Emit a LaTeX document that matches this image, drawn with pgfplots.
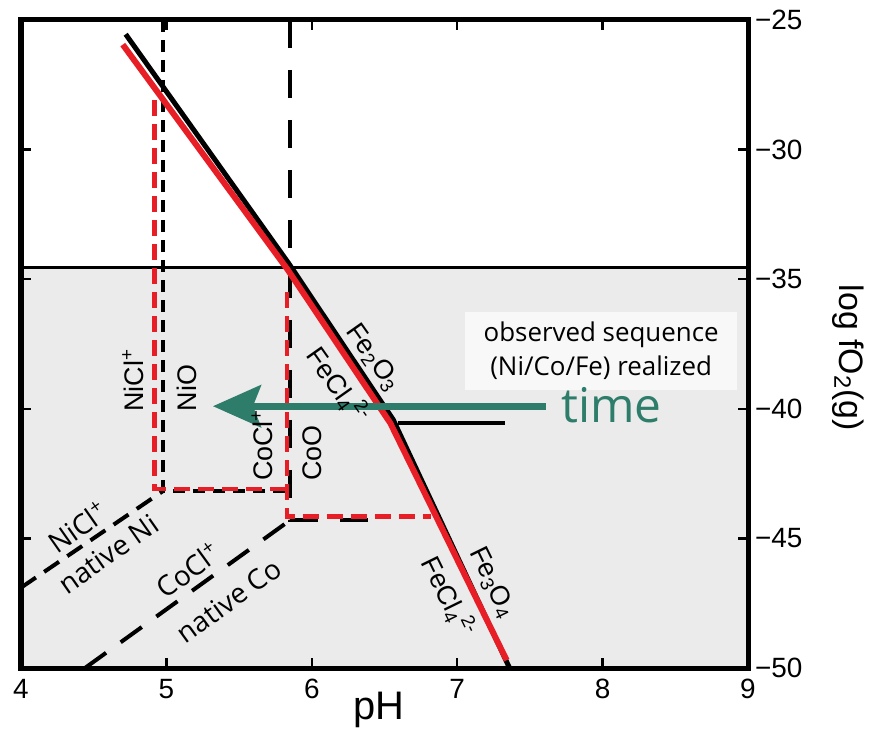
\documentclass[border=0pt]{standalone}
\usepackage{fontspec}
\setmainfont{Liberation Sans}
\newfontfamily\osans{Open Sans}
\usepackage{pgfplots}
\pgfplotsset{compat=1.18}
\usetikzlibrary{arrows.meta}
\definecolor{fered}{RGB}{232,30,38}
\definecolor{arrowgreen}{RGB}{46,125,107}
\definecolor{shade}{RGB}{235,235,235}
\definecolor{boxfill}{RGB}{248,248,248}
\begin{document}
\begin{tikzpicture}
\begin{axis}[
  scale only axis, width=363.5bp, height=324bp,
  xmin=4, xmax=9, ymin=-50, ymax=-25,
  axis line style={line width=2.5bp},
  tick style={line width=1.2bp, black},
  major tick length=5bp,
  tick align=inside,
  xtick={4,5,6,7,8,9},
  ytick={-50,-45,-40,-35,-30,-25},
  yticklabels={−50,−45,−40,−35,−30,−25},
  yticklabel pos=right,
  ticklabel style={font=\fontsize{14}{16}\selectfont},
  /pgf/number format/assume math mode=true,
  xticklabel style={yshift=-2bp},
  clip=false,
  axis on top,
]
% shaded region
\addplot[draw=none, fill=shade] coordinates {(4,-50) (9,-50) (9,-34.55) (4,-34.55)} -- cycle;
\addplot[black, line width=1.5bp] coordinates {(4,-34.55) (9,-34.55)};
% black dashed boundaries
\addplot[black, line width=2bp, dash pattern=on 6bp off 4bp] coordinates {(4.98,-25) (4.98,-43.16) (5.85,-43.16)};
\addplot[black, line width=2bp, dash pattern=on 14bp off 11bp] coordinates {(5.85,-25) (5.85,-44.3) (6.46,-44.3)};
\addplot[black, line width=2bp, dash pattern=on 9bp off 5bp] coordinates {(4.0,-46.9) (4.98,-43.16)};
\addplot[black, line width=2bp, dash pattern=on 13bp off 9bp] coordinates {(4.44,-50) (5.85,-44.3)};
% black solid Fe boundary
\addplot[black, line width=2.5bp] coordinates {(4.72,-25.55) (5.845,-34.42) (6.56,-40.42) (7.36,-50)};
\addplot[black, line width=2bp] coordinates {(6.59,-40.54) (7.33,-40.54)};
% red solid
\addplot[fered, line width=3bp] coordinates {(4.70,-25.95) (5.83,-34.6) (6.54,-40.55) (7.34,-49.7)};
% red dashed
\addplot[fered, line width=2.3bp, dash pattern=on 8bp off 4bp] coordinates {(4.92,-28.1) (4.92,-43.1) (5.83,-43.1)};
\addplot[fered, line width=2.3bp, dash pattern=on 8bp off 4bp] coordinates {(5.83,-35.5) (5.83,-44.15) (6.82,-44.15)};
% arrow
\addplot[arrowgreen, line width=3.5bp, -{Stealth[length=24bp,width=21bp,inset=4bp]}] coordinates {(7.61,-39.9) (5.32,-39.9)};
% text box
\node[fill=boxfill, minimum width=136bp, minimum height=39bp, align=center, inner sep=0pt,
  font=\osans\fontsize{13}{17}\selectfont] at (axis cs:7.99,-37.77) {observed sequence\\(Ni/Co/Fe) realized};
\node[text=arrowgreen, font=\osans\fontsize{24}{28}\selectfont] at (axis cs:8.06,-39.85) {time};
% vertical labels
\node[rotate=90, font=\fontsize{13.5}{15}\selectfont] at (axis cs:4.77,-38.9) {NiCl\textsuperscript{+}};
\node[rotate=90, font=\fontsize{13.5}{15}\selectfont] at (axis cs:5.14,-39.2) {NiO};
\node[rotate=90, font=\fontsize{13.5}{15}\selectfont] at (axis cs:5.66,-41.4) {CoCl\textsuperscript{+}};
\node[rotate=90, font=\fontsize{13.5}{15}\selectfont] at (axis cs:6.00,-41.7) {CoO};
% Fe labels
\node[rotate=-54.8, font=\fontsize{13.5}{15}\selectfont] at (axis cs:6.42,-38.03) {Fe\textsubscript{2}O\textsubscript{3}};
\node[rotate=-54.8, font=\fontsize{13.5}{15}\selectfont] at (axis cs:6.18,-39.1) {FeCl\textsubscript{4}\textsuperscript{2-}};
\node[rotate=-63.9, font=\fontsize{13.5}{15}\selectfont] at (axis cs:7.24,-46.71) {Fe\textsubscript{3}O\textsubscript{4}};
\node[rotate=-63.9, font=\fontsize{13.5}{15}\selectfont] at (axis cs:6.94,-47.25) {FeCl\textsubscript{4}\textsuperscript{2-}};
% diagonal labels
\node[rotate=35, font=\osans\fontsize{14}{16}\selectfont] at (axis cs:4.39,-44.55) {NiCl\textsuperscript{+}};
\node[rotate=35, font=\osans\fontsize{14}{16}\selectfont] at (axis cs:4.60,-45.6) {native Ni};
\node[rotate=36, font=\osans\fontsize{14}{16}\selectfont] at (axis cs:5.15,-46.21) {CoCl\textsuperscript{+}};
\node[rotate=36, font=\osans\fontsize{14}{16}\selectfont] at (axis cs:5.43,-47.4) {native Co};
% axis labels
\node[font=\fontsize{20}{22}\selectfont] at (axis cs:6.46,-51.6) {pH};
\node[rotate=-90, font=\fontsize{17}{19}\selectfont] at (axis cs:9.69,-38.03) {log fO\textsubscript{2}(g)};
\end{axis}
\pgfresetboundingbox
\path[use as bounding box] ([shift={(-10.5bp,-33bp)}]current axis.south west) rectangle ([shift={(427.5bp,334bp)}]current axis.south west);
\end{tikzpicture}
\end{document}
